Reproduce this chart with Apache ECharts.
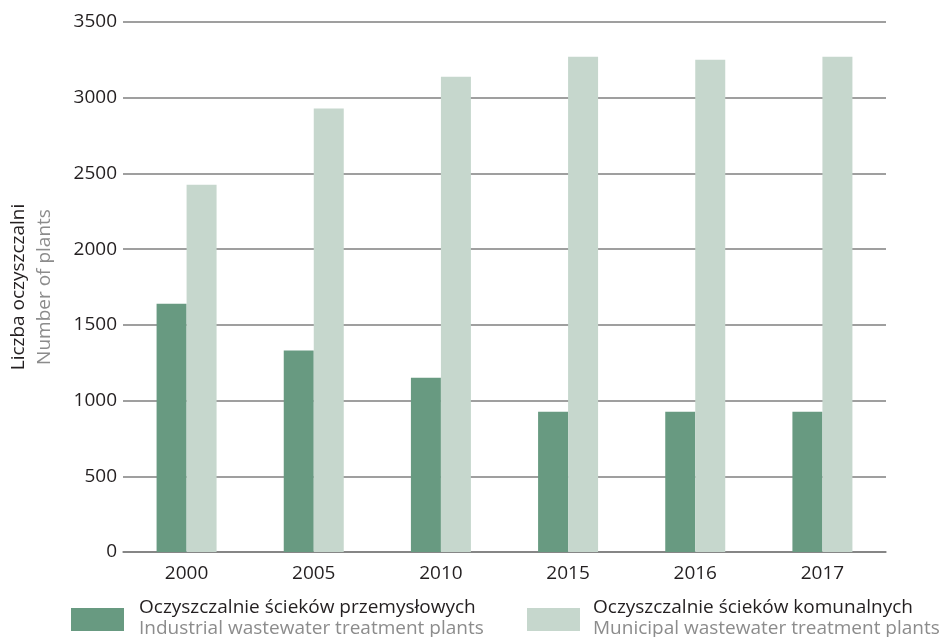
<!DOCTYPE html>
<html><head><meta charset="utf-8">
<script src="https://cdn.jsdelivr.net/npm/echarts@6/dist/echarts.min.js"></script>
<style>html,body{margin:0;padding:0;background:#fff}#c{width:941px;height:637px}</style>
</head><body><div id="c"></div>
<script>
var years = ['2000','2005','2010','2015','2016','2017'];
var industrial = [1640, 1330, 1151, 927, 927, 927];
var municipal = [2426, 2928, 3139, 3271, 3251, 3271];
var yTicks = [0, 500, 1000, 1500, 2000, 2500, 3000, 3500];
var seriesNamesPL = ['Oczyszczalnie ścieków przemysłowych', 'Oczyszczalnie ścieków komunalnych'];
var seriesNamesEN = ['Industrial wastewater treatment plants', 'Municipal wastewater treatment plants'];
var axisTitlePL = 'Liczba oczyszczalni';
var axisTitleEN = 'Number of plants';

var FONT = 'Open Sans';
var FS = 19;
var C1 = '#689a81', C2 = '#c6d7cd';
var chart = echarts.init(document.getElementById('c'));
chart.setOption({
  animation: false,
  textStyle: {fontFamily: FONT},
  grid: {left: 123, right: 55, top: 22, bottom: 85},
  xAxis: {
    type: 'category', data: years,
    axisLine: {lineStyle: {color: '#7f7f7f', width: 1.5}},
    axisTick: {show: false},
    axisLabel: {color: '#231f20', fontSize: FS, fontFamily: FONT, margin: 12}
  },
  yAxis: {
    type: 'value', min: yTicks[0], max: yTicks[yTicks.length-1], interval: 500,
    axisLine: {show: false}, axisTick: {show: false},
    splitLine: {lineStyle: {color: '#7f7f7f', width: 1.5}},
    axisLabel: {color: '#231f20', fontSize: FS, fontFamily: FONT, margin: 6,
      formatter: function (v) { return String(v); }}
  },
  series: [
    {type: 'bar', name: seriesNamesPL[0], data: industrial, barWidth: 30, barGap: '0%', itemStyle: {color: C1}},
    {type: 'bar', name: seriesNamesPL[1], data: municipal, barWidth: 30, barGap: '0%', itemStyle: {color: C2}}
  ],
  graphic: [
    {type: 'text', x: 19, y: 287, rotation: Math.PI/2,
     style: {text: axisTitlePL, fill: '#231f20', fontSize: FS, fontFamily: FONT, align: 'center', verticalAlign: 'middle'}},
    {type: 'text', x: 45, y: 287, rotation: Math.PI/2,
     style: {text: axisTitleEN, fill: '#8c8c8c', fontSize: FS, fontFamily: FONT, align: 'center', verticalAlign: 'middle'}},
    {type: 'rect', shape: {x: 71, y: 608, width: 53, height: 23}, style: {fill: C1}},
    {type: 'text', x: 139, y: 608, style: {text: seriesNamesPL[0], fill: '#231f20', fontSize: FS, fontFamily: FONT, verticalAlign: 'middle'}},
    {type: 'text', x: 139, y: 629, style: {text: seriesNamesEN[0], fill: '#8c8c8c', fontSize: FS, fontFamily: FONT, verticalAlign: 'middle'}},
    {type: 'rect', shape: {x: 527, y: 608, width: 53, height: 23}, style: {fill: C2}},
    {type: 'text', x: 593, y: 608, style: {text: seriesNamesPL[1], fill: '#231f20', fontSize: FS, fontFamily: FONT, verticalAlign: 'middle'}},
    {type: 'text', x: 593, y: 629, style: {text: seriesNamesEN[1], fill: '#8c8c8c', fontSize: FS, fontFamily: FONT, verticalAlign: 'middle'}}
  ]
});
</script></body></html>
